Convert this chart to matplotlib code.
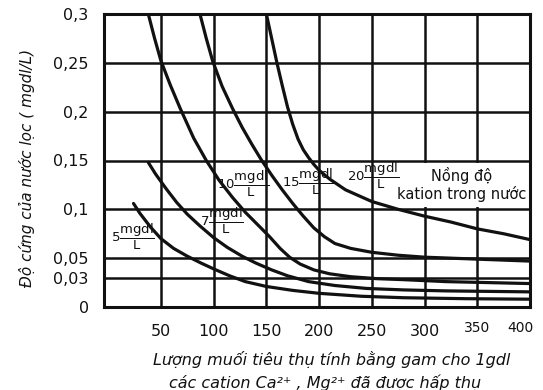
import matplotlib
matplotlib.use("Agg")
import matplotlib.pyplot as plt
from matplotlib.patches import Rectangle
from matplotlib.transforms import ScaledTranslation

plt.rcParams["font.family"] = ["DejaVu Sans"]
plt.rcParams["mathtext.fontset"] = "dejavusans"

INK = "#111111"

# salt consumption (g per 1 gdl of Ca2+, Mg2+ absorbed) vs. filtered water hardness (mgdl/L)
x_ticks = [50, 100, 150, 200, 250, 300, 350, 400]
y_ticks = [0, 0.03, 0.05, 0.1, 0.15, 0.2, 0.25, 0.3]
y_tick_labels = ["0", "0,03", "0,05", "0,1", "0,15", "0,2", "0,25", "0,3"]

# one curve per cation concentration in the raw water
x_c5 = [24, 30, 40, 50, 62, 75, 88, 100, 115, 130, 150, 175, 200, 240, 280, 340, 400]
y_c5 = [0.106, 0.096, 0.082, 0.070, 0.060, 0.052, 0.045, 0.039, 0.032, 0.026,
        0.021, 0.017, 0.014, 0.011, 0.0095, 0.0085, 0.008]

x_c7 = [38, 45, 55, 65, 75, 87, 100, 113, 127, 140, 155, 170, 190, 215, 245, 280, 320, 360, 400]
y_c7 = [0.148, 0.136, 0.121, 0.107, 0.095, 0.083, 0.071, 0.061, 0.052, 0.045,
        0.038, 0.032, 0.026, 0.022, 0.019, 0.0175, 0.0165, 0.016, 0.0155]

x_c10 = [38, 44, 50, 59, 68, 81, 93, 105, 118, 130, 142, 153, 163, 172, 182, 195,
         210, 230, 255, 280, 320, 360, 400]
y_c10 = [0.300, 0.275, 0.252, 0.227, 0.204, 0.173, 0.150, 0.130, 0.112, 0.097, 0.084,
         0.072, 0.060, 0.051, 0.044, 0.038, 0.034, 0.031, 0.029, 0.028, 0.026, 0.025, 0.024]

x_c15 = [87, 93, 99, 108, 118, 127, 136, 145, 155, 165, 175, 185, 195, 205, 215,
         230, 250, 275, 300, 350, 400]
y_c15 = [0.300, 0.275, 0.252, 0.226, 0.203, 0.184, 0.167, 0.151, 0.135, 0.120, 0.106,
         0.093, 0.081, 0.072, 0.065, 0.060, 0.056, 0.053, 0.051, 0.049, 0.047]

x_c20 = [150, 155, 160, 165, 170, 175, 180, 185, 190, 195, 200, 210, 225, 250, 275,
         300, 325, 350, 375, 400]
y_c20 = [0.300, 0.275, 0.250, 0.227, 0.205, 0.187, 0.172, 0.161, 0.153, 0.146, 0.140,
         0.131, 0.120, 0.108, 0.100, 0.093, 0.087, 0.080, 0.075, 0.069]

curves = [(x_c5, y_c5), (x_c7, y_c7), (x_c10, y_c10), (x_c15, y_c15), (x_c20, y_c20)]

# concentration tags: (value, x, y) anchor of each tag
conc_labels = [("5", 3, 0.072), ("7", 87, 0.088), ("10", 103, 0.126),
               ("15", 165, 0.128), ("20", 226, 0.134)]

fig = plt.figure(figsize=(5.43, 3.90), dpi=100)
ax = fig.add_axes([104 / 543, 1 - 307 / 390, 426 / 543, 293 / 390])

ax.set_xlim(-4, 400)
ax.set_ylim(0, 0.3)
ax.set_xticks(x_ticks)
ax.set_xticklabels([str(v) for v in x_ticks])
ax.set_yticks(y_ticks)
ax.set_yticklabels(y_tick_labels)
ax.tick_params(length=0, labelsize=11.5, colors=INK)
ax.tick_params(axis="x", pad=12)
ax.tick_params(axis="y", pad=11)

# last two x labels are set smaller, and "400" pulled in from the edge
xlabels = ax.get_xticklabels()
for lbl in xlabels[-2:]:
    lbl.set_fontsize(10)
xlabels[-1].set_transform(xlabels[-1].get_transform()
                          + ScaledTranslation(-7 / 72, 2 / 72, fig.dpi_scale_trans))
xlabels[-2].set_transform(xlabels[-2].get_transform()
                          + ScaledTranslation(0, 2 / 72, fig.dpi_scale_trans))

ax.grid(True, color=INK, lw=1.8)
ax.set_axisbelow(True)
for sp in ax.spines.values():
    sp.set_linewidth(2.2)
    sp.set_color(INK)

# blank panel behind the legend note
ax.add_patch(Rectangle((254, 0.1025), 146, 0.045, facecolor="white",
                       edgecolor="none", zorder=1.5))

for xs, ys in curves:
    ax.plot(xs, ys, color=INK, lw=2.3, zorder=3, solid_capstyle="round")

for val, lx, ly in conc_labels:
    ax.text(lx, ly, r"$\mathrm{%s}\dfrac{\mathrm{mgdl}}{\mathrm{L}}$" % val,
            fontsize=9.5, color=INK, ha="left", va="center", zorder=2.5)

ax.text(335, 0.1255, "Nồng độ\nkation trong nước", fontsize=10.5, color=INK,
        ha="center", va="center", linespacing=1.2, zorder=2.5)

fig.text(27 / 543, 1 - 168 / 390, "Độ cứng của nước lọc ( mgdl/L)", rotation=90,
         fontsize=11, style="italic", color=INK, ha="center", va="center")
fig.text(332 / 543, 1 - 360 / 390, "Lượng muối tiêu thụ tính bằng gam cho 1gdl",
         fontsize=11.5, style="italic", color=INK, ha="center", va="center")
fig.text(325 / 543, 1 - 383 / 390, "các cation Ca²⁺ , Mg²⁺ đã được hấp thụ",
         fontsize=11.5, style="italic", color=INK, ha="center", va="center")

fig.savefig("out.png", dpi=100)
